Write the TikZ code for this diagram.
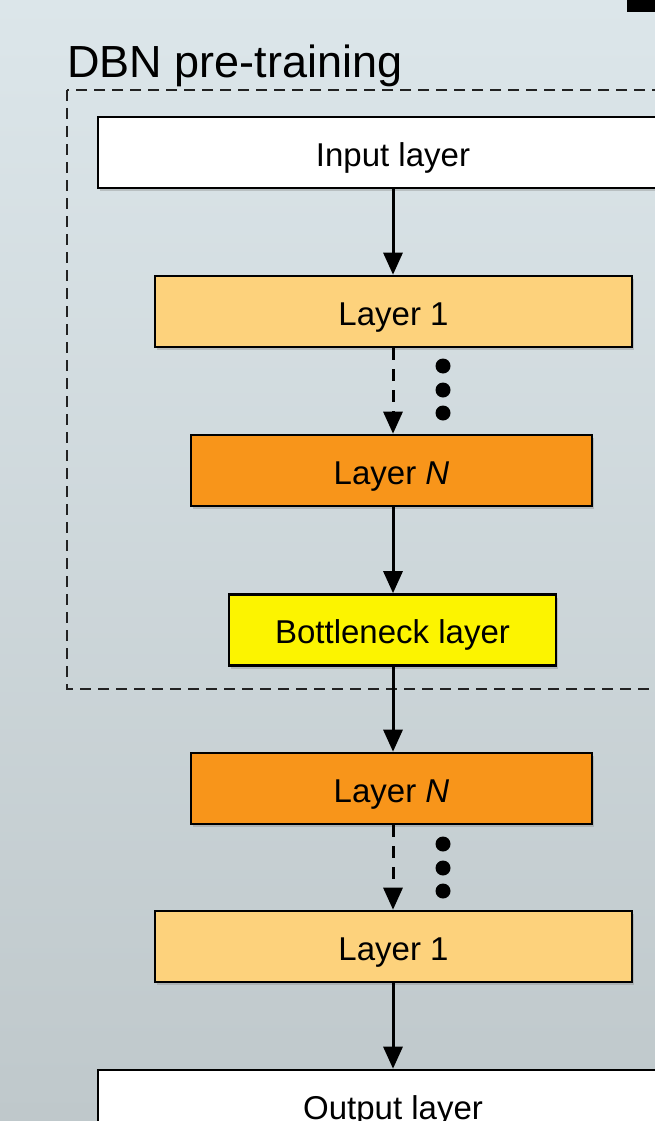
\documentclass[tikz,border=0pt]{standalone}
\usepackage{fontspec}
\setmainfont{Liberation Sans}
\usetikzlibrary{arrows.meta,shadows}
\definecolor{bgtop}{HTML}{DCE6EA}
\definecolor{bgbot}{HTML}{BFC8CB}
\definecolor{lone}{HTML}{FDD27C}
\definecolor{lN}{HTML}{F8951A}
\definecolor{bneck}{HTML}{FCF400}
\definecolor{dashcol}{HTML}{222222}
\begin{document}
\begin{tikzpicture}[x=1pt,y=-1pt,
  layer/.style={draw=black,line width=2.6pt,rectangle,minimum height=71pt,
    inner sep=0pt,font=\fontsize{33}{38}\selectfont,text height=27pt,text depth=0pt,
    drop shadow={shadow xshift=2pt,shadow yshift=-3pt,opacity=.35}},
  arr/.style={line width=3pt,-{Triangle[length=22pt,width=19pt]}},
  darr/.style={arr,dash pattern=on 12pt off 9pt},
  dot/.style={circle,fill=black,minimum size=15pt,inner sep=0pt},
  region/.style={draw=dashcol,line width=2.6pt,dash pattern=on 11pt off 7pt}]
\useasboundingbox (0,0) rectangle (655,1121);
\shade[top color=bgtop,bottom color=bgbot] (0,0) rectangle (655,1121);
\clip (0,0) rectangle (655,1121);
\fill[black] (627,0) rectangle (660,12);
\node[anchor=base west,font=\fontsize{45}{50}\selectfont,inner sep=0pt] (title) at (67,78) {DBN pre-training};
\draw[region] (67,90) rectangle (720,689);
% nodes
\node[layer,fill=white,minimum width=590pt] (in) at (393,152.5) {Input layer};
\node[layer,fill=lone,minimum width=477pt] (l1) at (393.5,311.5) {Layer 1};
\node[layer,fill=lN,minimum width=401pt] (lN) at (391.5,470.5) {Layer \textit{N}};
\node[layer,fill=bneck,minimum width=327pt] (bn) at (392.5,630) {Bottleneck layer};
\node[layer,fill=lN,minimum width=401pt] (lN2) at (391.5,788.5) {Layer \textit{N}};
\node[layer,fill=lone,minimum width=477pt] (l12) at (393.5,946.5) {Layer 1};
\node[layer,fill=white,minimum width=590pt] (out) at (393,1105.5) {Output layer};
% connectors
\draw[arr] (in.south) -- (in.south |- l1.north);
\draw[darr] (in.south |- l1.south) -- (in.south |- lN.north);
\draw[arr] (in.south |- lN.south) -- (in.south |- bn.north);
\draw[arr] (in.south |- bn.south) -- (in.south |- lN2.north);
\draw[darr] (in.south |- lN2.south) -- (in.south |- l12.north);
\draw[arr] (in.south |- l12.south) -- (out.north);
% dots
\node[dot] (d1) at (443,366) {};
\node[dot] (d2) at (443,390) {};
\node[dot] (d3) at (443,413) {};
\node[dot] (d4) at (443,844) {};
\node[dot] (d5) at (443,868) {};
\node[dot] (d6) at (443,891) {};
\end{tikzpicture}
\end{document}
